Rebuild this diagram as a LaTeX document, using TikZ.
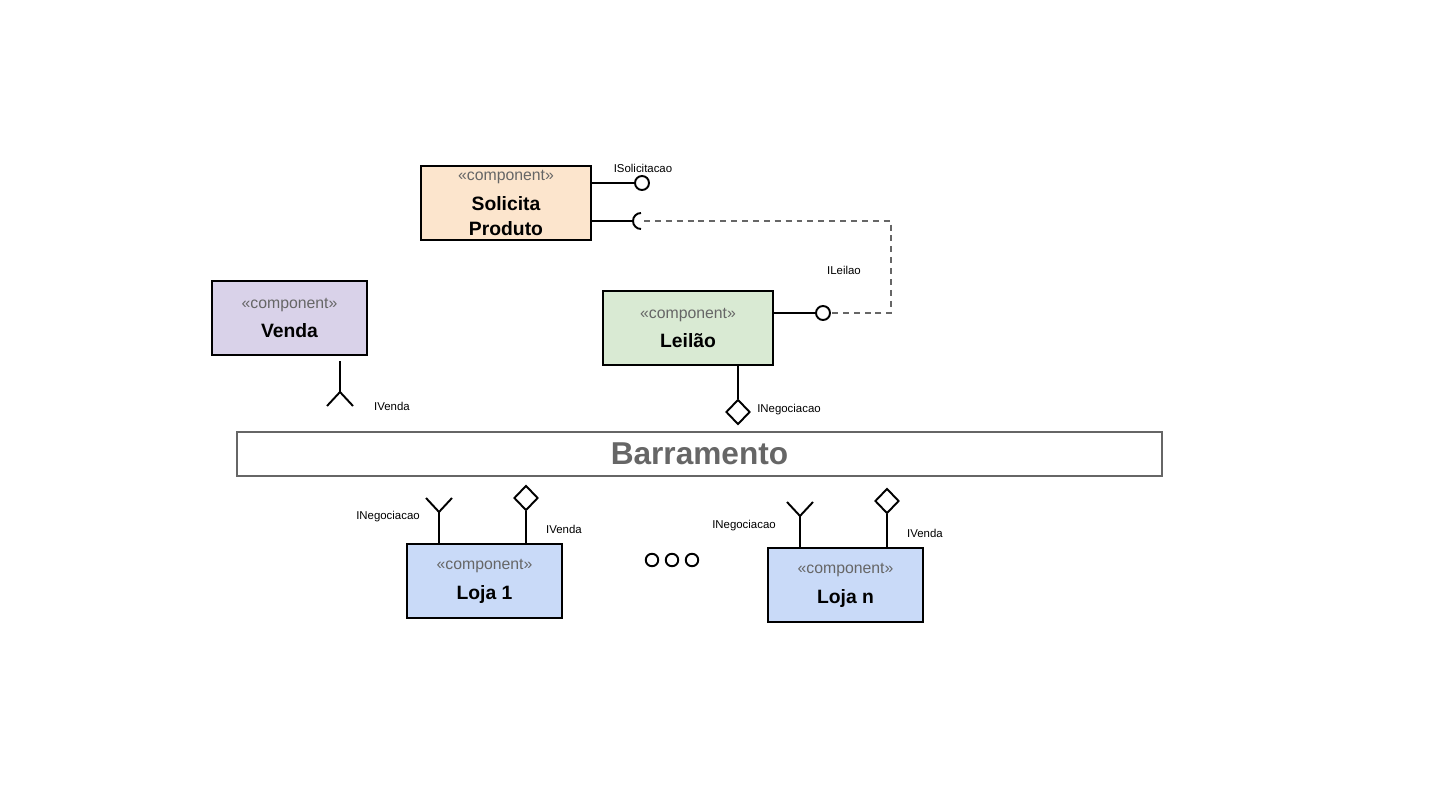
\documentclass[tikz,border=0pt]{standalone}
\usepackage{fontspec}
\setmainfont{Liberation Sans}
\usetikzlibrary{shapes.geometric}
\definecolor{peach}{HTML}{FCE5CD}
\definecolor{lilac}{HTML}{D9D2E9}
\definecolor{mint}{HTML}{D9EAD3}
\definecolor{sky}{HTML}{C9DAF8}
\definecolor{stereo}{HTML}{666666}
\newcommand{\stereo}{{\mdseries\fontsize{9}{11}\selectfont\color{stereo}«component»}}
\newcommand{\fork}[3]{\coordinate (#1) at (#2); \draw (#1) -- ++(-13,#3) (#1) -- ++(13,#3); }
\newcommand{\sock}[2]{\coordinate (#1) at (#2); \draw ([yshift=0.16cm]#1) arc[start angle=90,end angle=270,radius=0.16cm]; }

\begin{document}
\begin{tikzpicture}[x=0.02cm,y=-0.02cm,line width=1.1pt,
  comp/.style={draw=black,line width=1.2pt,minimum width=3.1cm,minimum height=1.48cm,align=center,inner sep=0pt,font=\fontsize{11}{14}\selectfont\bfseries},
  bus/.style={draw=stereo,line width=1.1pt,minimum width=18.5cm,minimum height=0.88cm,text=stereo,font=\fontsize{18}{20}\selectfont\bfseries},
  ball/.style={circle,draw,fill=white,minimum size=0.28cm,inner sep=0pt},
  dot/.style={circle,draw,minimum size=0.25cm,inner sep=0pt},
  lozenge/.style={diamond,draw,fill=white,minimum width=0.48cm,minimum height=0.5cm,inner sep=0pt},
  lbl/.style={font=\fontsize{6.5}{8}\selectfont,inner sep=1pt},
  wire/.style={draw=stereo,dashed,dash pattern=on 3.4pt off 2.8pt}]
  \useasboundingbox (0,0) rectangle (1434,793);
  \node[comp,fill=peach,minimum width=3.4cm] (solic) at (506,203) {\stereo\\[3pt]Solicita\\Produto};
  \node[comp,fill=lilac] (venda) at (289.5,318) {\stereo\\[3pt]Venda};
  \node[comp,fill=mint,minimum width=3.4cm] (leilao) at (688,328) {\stereo\\[3pt]Leilão};
  \node[bus] (bus) at (699.5,454) {Barramento};
  \node[comp,fill=sky] (loja1) at (484.5,581) {\stereo\\[3pt]Loja 1};
  \node[comp,fill=sky] (lojan) at (845.5,585) {\stereo\\[3pt]Loja n};
  \node[ball] (bsol) at (642,183) {};
  \node[ball] (blei) at (823,313) {};
  \node[lozenge] (dlei) at (738,412) {};
  \node[lozenge] (dl1) at (526,498) {};
  \node[lozenge] (dln) at (887,501) {};
  \node[dot] (d1) at (652,560) {};
  \node[dot] (d2) at (672,560) {};
  \node[dot] (d3) at (692,560) {};
  \node[lbl] (tsol) at (643,168) {ISolicitacao};
  \node[lbl] (tlei) at (844,270) {ILeilao};
  \node[lbl] (tneg) at (789,410) {INegociacao};
  \node[lbl] (tven) at (392,406) {IVenda};
  \node[lbl] (tneg1) at (388,517) {INegociacao};
  \node[lbl] (tven1) at (564,529) {IVenda};
  \node[lbl] (tnegn) at (744,526) {INegociacao};
  \node[lbl] (tvenn) at (925,533) {IVenda};
  \sock{ssol}{641,221}
  \fork{fven}{340,392}{14}
  \fork{fl1}{439,512}{-14}
  \fork{fln}{800,516}{-14}
  \coordinate (c1) at (891,221);
  \coordinate (c2) at (891,313);
  \draw (solic.east |- bsol) -- (bsol);
  \draw (solic.east |- ssol) -- ([xshift=-0.16cm]ssol);
  \draw (leilao.east |- blei) -- (blei);
  \draw (leilao.south -| dlei) -- (dlei);
  \draw ([yshift=-0.1cm]venda.south -| fven) -- (fven);
  \draw (loja1.north -| fl1) -- (fl1);
  \draw (loja1.north -| dl1) -- (dl1);
  \draw (lojan.north -| fln) -- (fln);
  \draw (lojan.north -| dln) -- (dln);
  \draw[wire] ([xshift=0.06cm]ssol) -- (c1) -- (c2) -- (blei);
\end{tikzpicture}
\end{document}
